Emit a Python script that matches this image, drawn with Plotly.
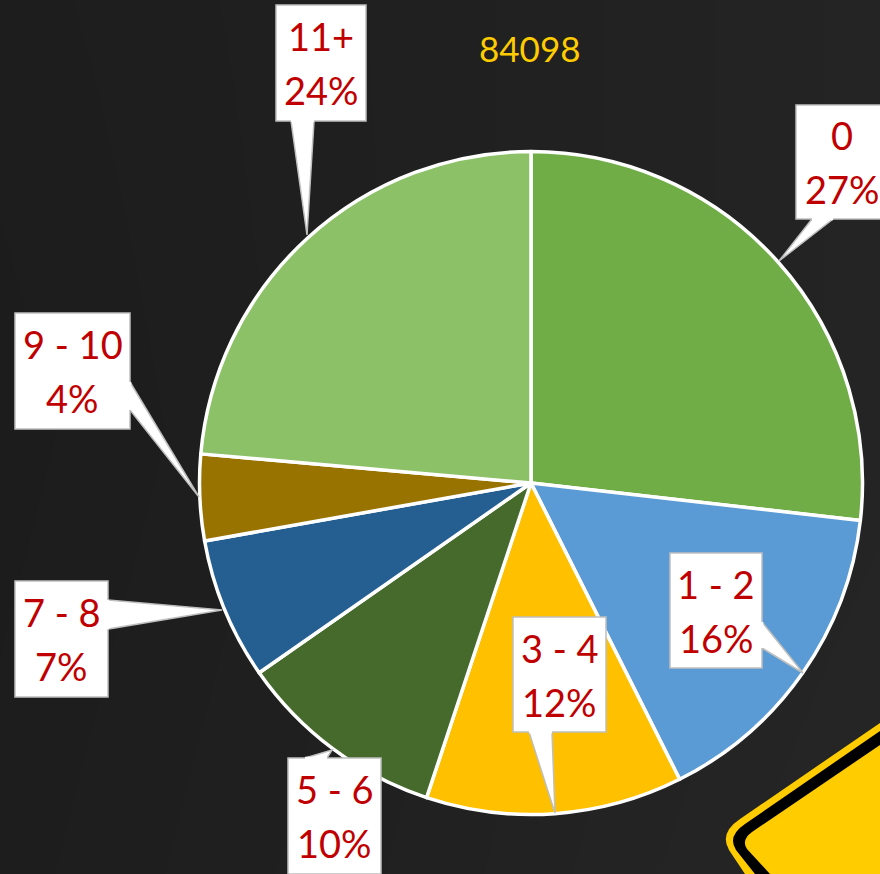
import plotly.graph_objects as go

W, H = 880, 874
categories = ["0", "1 - 2", "3 - 4", "5 - 6", "7 - 8", "9 - 10", "11+"]
values = [26.8, 15.8, 12.5, 10.2, 6.9, 4.2, 23.6]
percent_labels = ["27%", "16%", "12%", "10%", "7%", "4%", "24%"]
colors = ["#70AD47", "#5B9BD5", "#FFC000", "#456A2B", "#255E91", "#997300", "#8CC168"]
title_text = "84098"


def X(p):
    return p / W


def Y(p):
    return 1 - p / H


def path(points):
    return "M " + " L ".join(f"{X(x):.5f},{Y(y):.5f}" for x, y in points) + " Z"


fig = go.Figure()

# background gradient
fig.add_trace(go.Heatmap(
    z=[[29, 33, 38], [28, 32, 36], [29, 32, 36]],
    x=[0, 0.5, 1], y=[0, 0.5, 1],
    colorscale=[[0, "rgb(28,28,28)"], [1, "rgb(44,44,44)"]],
    zmin=28, zmax=44, zsmooth="best", showscale=False, hoverinfo="skip",
    xaxis="x", yaxis="y",
))

fig.add_trace(go.Pie(
    labels=categories, values=values, sort=False, direction="clockwise", rotation=0,
    marker=dict(colors=colors, line=dict(color="white", width=3.5)),
    textinfo="none", showlegend=False, hoverinfo="label+percent",
    domain=dict(x=[X(199.5), X(862.5)], y=[Y(814.5), Y(151.5)]),
))

shapes = []


def sign(points_curve, color):
    a, b, c, d, e = points_curve
    s = (f"M {X(a[0]):.5f},{Y(a[1]):.5f} L {X(b[0]):.5f},{Y(b[1]):.5f} "
         f"Q {X(c[0]):.5f},{Y(c[1]):.5f} {X(d[0]):.5f},{Y(d[1]):.5f} "
         f"L {X(e[0]):.5f},{Y(e[1]):.5f} L {X(880):.5f},{Y(874):.5f} Z")
    shapes.append(dict(type="path", path=s, xref="paper", yref="paper",
                       fillcolor=color, line=dict(width=0), layer="above"))


sign([(880, 723), (740, 819), (719, 833), (729, 850), (745, 874)], "#FFCC00")
sign([(880, 731), (745, 824), (727, 836), (736, 850), (755, 874)], "#000000")
sign([(880, 745), (752, 832), (741, 840), (747, 849), (770, 874)], "#FFCC00")

callouts = [
    ((276, 5, 366, 121), [(291, 121), (307, 235), (314, 121)]),
    ((796, 105, 888, 219), [(812, 219), (779, 261), (833, 219)]),
    ((670, 553, 762, 668), [(762, 622), (803, 673), (762, 648)]),
    ((513, 617, 606, 732), [(529, 732), (555, 813), (552, 732)]),
    ((288, 758, 381, 874), [(305, 758), (332, 750), (327, 758)]),
    ((15, 581, 108, 697), [(108, 600), (222, 610), (108, 629)]),
    ((15, 313, 130, 429), [(130, 382), (199, 497), (130, 410)]),
]
order = [6, 0, 1, 2, 3, 4, 5]
BORDER = "#BFBFBF"

for (x0, y0, x1, y1), tail in callouts:
    shapes.append(dict(type="path", path=path(tail), xref="paper", yref="paper",
                       fillcolor="white", line=dict(color=BORDER, width=1.5), layer="above"))
    shapes.append(dict(type="rect", x0=X(x0), x1=X(x1), y0=Y(y1), y1=Y(y0), xref="paper", yref="paper",
                       fillcolor="white", line=dict(color=BORDER, width=1.5), layer="above"))
    a, _, b = tail
    shapes.append(dict(type="line", x0=X(a[0]), y0=Y(a[1]), x1=X(b[0]), y1=Y(b[1]), xref="paper", yref="paper",
                       line=dict(color="white", width=2.5), layer="above"))

annotations = []
LINE_GAP = 27
FONT = "Lato"
for idx, ((x0, y0, x1, y1), _) in zip(order, callouts):
    cx, cy = (x0 + x1) / 2, (y0 + y1) / 2
    for text, off in ((categories[idx], -LINE_GAP), (percent_labels[idx], LINE_GAP)):
        annotations.append(dict(
            x=X(cx), y=Y(cy + off), xref="paper", yref="paper", text=text, showarrow=False,
            font=dict(family=FONT, size=38, color="#C00000"), align="center",
            xanchor="center", yanchor="middle",
        ))
annotations.append(dict(
    x=X(530), y=Y(48), xref="paper", yref="paper", text=title_text, showarrow=False,
    font=dict(family=FONT, size=35, color="#FFCC00"), xanchor="center", yanchor="middle",
))

fig.update_layout(
    width=W, height=H, margin=dict(l=0, r=0, t=0, b=0),
    paper_bgcolor="#1e1e1e", plot_bgcolor="#1e1e1e",
    xaxis=dict(visible=False, range=[0, 1], domain=[0, 1], fixedrange=True),
    yaxis=dict(visible=False, range=[0, 1], domain=[0, 1], fixedrange=True),
    shapes=shapes, annotations=annotations, showlegend=False,
)
fig.write_html("out.html", config=dict(displayModeBar=False),
               post_script="document.body.style.margin='0';document.documentElement.style.overflow='hidden';")
